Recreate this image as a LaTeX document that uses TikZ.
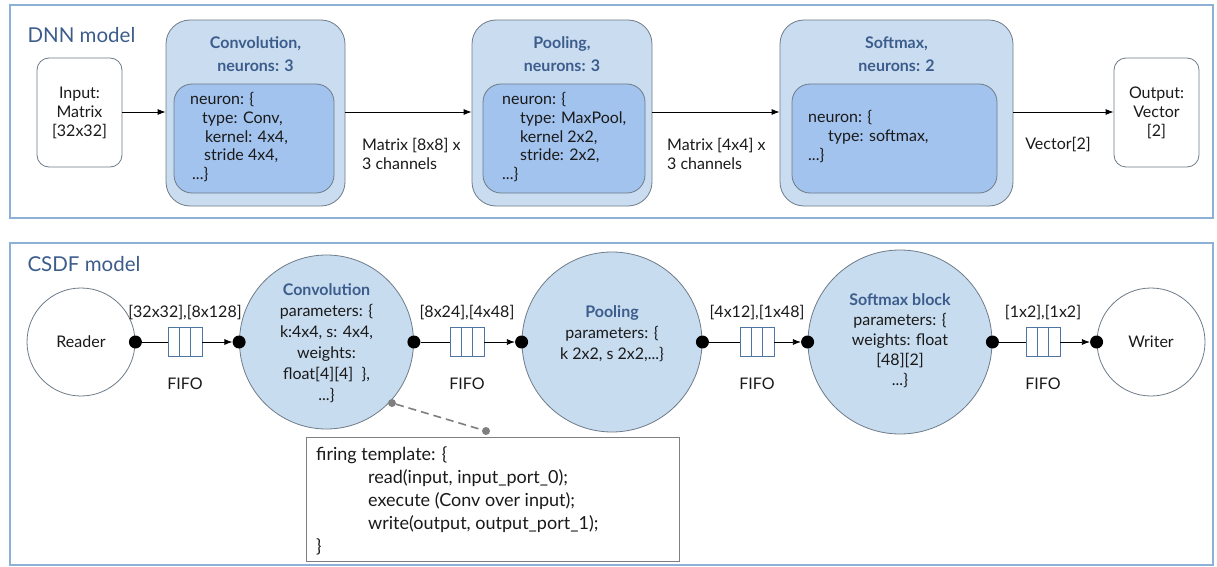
\documentclass[tikz,border=0pt]{standalone}
\usepackage{fontspec}
\setmainfont{Lato}
\usetikzlibrary{arrows.meta,calc}
\definecolor{panelline}{HTML}{8DB0D6}
\definecolor{titleblue}{HTML}{3C5D8C}
\definecolor{outerfill}{HTML}{CADDF0}
\definecolor{innerfill}{HTML}{A2C3EE}
\definecolor{boxline}{HTML}{6E7B88}
\definecolor{circfill}{HTML}{C8DCF0}
\definecolor{fifoline}{HTML}{4F76A3}
\definecolor{noteline}{HTML}{7F7F7F}
\definecolor{textcol}{HTML}{1A1A1A}

\begin{document}
\begin{tikzpicture}[x=1pt,y=-1pt,
  font=\fontsize{16}{19}\selectfont, text=textcol,
  panel/.style={draw=panelline, line width=1.2pt, fill=white, inner sep=0pt},
  paneltitle/.style={anchor=west, text=titleblue, font=\fontsize{20.5}{23}\selectfont},
  iobox/.style={draw=boxline, line width=0.8pt, fill=white, rounded corners=12pt, inner sep=0pt, align=center},
  layerbox/.style={draw=boxline, line width=0.8pt, fill=outerfill, rounded corners=24pt, inner sep=0pt},
  neuronbox/.style={draw=boxline, line width=0.8pt, fill=innerfill, rounded corners=18pt, inner sep=0pt},
  layertitle/.style={align=center, text=titleblue, font=\bfseries\fontsize{16}{23}\selectfont},
  code/.style={anchor=north west, align=left, inner sep=0pt, font=\fontsize{16}{18.8}\selectfont},
  flow/.style={-{Latex[length=8pt,width=6pt]}, line width=0.8pt, draw=black},
  actor/.style={circle, draw=boxline, line width=0.8pt, fill=circfill, inner sep=0pt},
  plain/.style={circle, draw=boxline, line width=0.8pt, fill=white, inner sep=0pt},
  port/.style={circle, fill=black, inner sep=0pt, minimum size=13pt},
  fifo/.style={draw=fifoline, line width=0.8pt, fill=white, minimum width=34pt, minimum height=29pt, inner sep=0pt},
  ratelabel/.style={font=\fontsize{16}{18}\selectfont},
  actortext/.style={align=center, font=\fontsize{16}{21}\selectfont},
  notedot/.style={circle, fill=noteline, inner sep=0pt, minimum size=8pt},
  note/.style={draw=noteline, line width=0.8pt, fill=white, inner sep=0pt, minimum width=373pt, minimum height=124pt}
]
\useasboundingbox (0,0) rectangle (1217,567);

% ---------------- DNN model ----------------
\node[panel, minimum width=1203pt, minimum height=213pt] (dnnpanel) at (611.5,111.5) {};
\node[paneltitle] (dnntitle) at (24,35) {DNN model};

\node[iobox, minimum width=85pt, minimum height=109pt] (input) at (79.5,112.5)
  {Input:\\Matrix\\{[32x32]}};

\node[layerbox, minimum width=179pt, minimum height=186pt] (conv) at (255.5,113) {};
\node[layertitle] (convt) at (255.5,54) {Convolution,\\neurons: 3};
\node[neuronbox, minimum width=160pt, minimum height=109pt] (convn) at (254,138.5) {};
\node[code] (convc) at (190,92) {neuron: \{\\
  \hspace*{12pt}type: Conv,\\
  \hspace*{15pt}kernel: 4x4,\\
  \hspace*{14pt}stride 4x4,\\
  \hspace*{2pt}...\}};

\node[layerbox, minimum width=180pt, minimum height=186pt] (pool) at (562,113) {};
\node[layertitle] (poolt) at (562,54) {Pooling,\\neurons: 3};
\node[neuronbox, minimum width=162pt, minimum height=109pt] (pooln) at (564,138.5) {};
\node[code] (poolc) at (502,92) {neuron: \{\\
  \hspace*{18pt}type: MaxPool,\\
  \hspace*{18pt}kernel 2x2,\\
  \hspace*{18pt}stride: 2x2,\\
  ...\}};

\node[layerbox, minimum width=233pt, minimum height=186pt] (soft) at (896.5,113) {};
\node[layertitle] (softt) at (896.5,54) {Softmax,\\neurons: 2};
\node[neuronbox, minimum width=205pt, minimum height=109pt] (softn) at (894.5,138.5) {};
\node[code] (softc) at (808,110) {neuron: \{\\
  \hspace*{20pt}type: softmax,\\
  ...\}};

\node[iobox, minimum width=85pt, minimum height=109pt] (output) at (1156.5,112.5)
  {Output:\\Vector\\{[2]}};

\draw[flow] (input.east |- 0,112) -- (conv.west |- 0,112);
\draw[flow] (conv.east |- 0,112) -- (pool.west |- 0,112);
\draw[flow] (pool.east |- 0,112) -- (soft.west |- 0,112);
\draw[flow] (soft.east |- 0,112) -- (output.west |- 0,112);

\node[anchor=west, align=left, inner sep=0pt] (e1) at (362,154) {Matrix [8x8] x\\3 channels};
\node[anchor=west, align=left, inner sep=0pt] (e2) at (667,154) {Matrix [4x4] x\\3 channels};
\node[inner sep=0pt] (e3) at (1058,145) {Vector[2]};

% ---------------- CSDF model ----------------
\node[panel, minimum width=1203pt, minimum height=322pt] (csdfpanel) at (611.5,404) {};
\node[paneltitle] (csdftitle) at (24,264) {CSDF model};

\node[plain, minimum size=108pt] (reader) at (81,342) {Reader};
\node[actor, minimum size=174pt] (cconv) at (326.5,342) {};
\node[actor, minimum size=180pt] (cpool) at (612,342) {};
\node[actor, minimum size=184pt] (csoft) at (900,342) {};
\node[plain, minimum size=108pt] (writer) at (1151,342) {Writer};

\node[actortext] (cconvt) at (326.5,343) {\textcolor{titleblue}{\bfseries Convolution}\\
  parameters: \{\\k:4x4, s: 4x4,\\weights:\\float[4][4]\ \ \},\\...\}};
\node[actortext] (cpoolt) at (612,334) {\textcolor{titleblue}{\bfseries Pooling}\\
  parameters: \{\\k 2x2, s 2x2,...\}};
\node[actortext, font=\fontsize{16}{20}\selectfont] (csoftt) at (900,341) {\textcolor{titleblue}{\bfseries Softmax block}\\
  parameters: \{\\weights: float\\{[48][2]}\\...\}};

% ports
\node[port] (p1) at (reader.east) {};
\node[port] (p2) at (cconv.west) {};
\node[port] (p3) at (cconv.east) {};
\node[port] (p4) at (cpool.west) {};
\node[port] (p5) at (cpool.east) {};
\node[port] (p6) at (csoft.west) {};
\node[port] (p7) at (csoft.east) {};
\node[port] (p8) at (writer.west) {};

% FIFO channels
\foreach \n/\x/\a/\b/\r in {f1/185/p1/p2/{[32x32],[8x128]},
                           f2/467/p3/p4/{[8x24],[4x48]},
                           f3/757/p5/p6/{[4x12],[1x48]},
                           f4/1043/p7/p8/{[1x2],[1x2]}}{
  \node[fifo] (\n) at (\x,342) {};
  \draw[fifoline, line width=0.8pt] ($(\n.north west)!1/3!(\n.north east)$) -- ($(\n.south west)!1/3!(\n.south east)$);
  \draw[fifoline, line width=0.8pt] ($(\n.north west)!2/3!(\n.north east)$) -- ($(\n.south west)!2/3!(\n.south east)$);
  \draw[line width=0.8pt] (\a) -- (\n);
  \draw[flow] (\n) -- (\b.west);
  \node[ratelabel] (\n r) at (\x,313) {\r};
  \node[ratelabel] (\n l) at (\x,384) {FIFO};
}

% firing template note
\node[notedot] (d1) at (392,403) {};
\node[notedot] (d2) at (486,431) {};
\draw[noteline, line width=1.6pt, dash pattern=on 8pt off 5pt] (d1) -- (d2);
\node[note] (fire) at (492.5,499) {};
\node[code, font=\fontsize{18}{23.2}\selectfont] (firet) at (316,446) {firing template: \{\\
  \hspace*{52pt}read(input, input\_port\_0);\\
  \hspace*{52pt}execute (Conv over input);\\
  \hspace*{52pt}write(output, output\_port\_1);\\
  \}};
\end{tikzpicture}
\end{document}
